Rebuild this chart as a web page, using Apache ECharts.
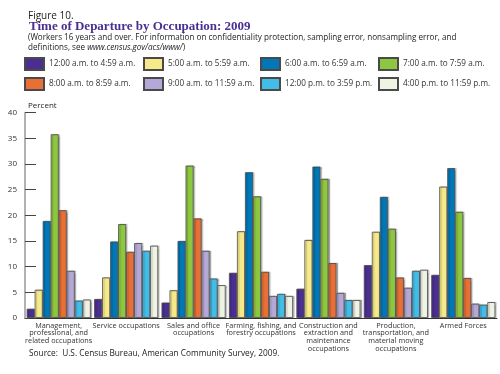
<!DOCTYPE html>
<html><head><meta charset="utf-8">
<script src="https://cdn.jsdelivr.net/npm/echarts@6/dist/echarts.min.js"></script>
<style>html,body{margin:0;padding:0;background:#fff}#c{width:500px;height:374px}</style>
</head><body><div id="c"></div>
<script>
const categories = [
  "Management,\nprofessional, and\nrelated occupations",
  "Service occupations",
  "Sales and office\noccupations",
  "Farming, fishing, and\nforestry occupations",
  "Construction and\nextraction and\nmaintenance\noccupations",
  "Production,\ntransportation, and\nmaterial moving\noccupations",
  "Armed Forces"
];
const seriesNames = [
  "12:00 a.m. to 4:59 a.m.",
  "5:00 a.m. to 5:59 a.m.",
  "6:00 a.m. to 6:59 a.m.",
  "7:00 a.m. to 7:59 a.m.",
  "8:00 a.m. to 8:59 a.m.",
  "9:00 a.m. to 11:59 a.m.",
  "12:00 p.m. to 3:59 p.m.",
  "4:00 p.m. to 11:59 p.m."
];
const s1200am = [1.8, 3.7, 3.0, 8.8, 5.7, 10.3, 8.4];
const s500am  = [5.5, 7.9, 5.4, 16.9, 15.2, 16.8, 25.6];
const s600am  = [18.9, 14.9, 15.0, 28.4, 29.5, 23.6, 29.2];
const s700am  = [35.8, 18.3, 29.7, 23.7, 27.1, 17.4, 20.7];
const s800am  = [21.0, 12.9, 19.4, 9.0, 10.7, 7.9, 7.8];
const s900am  = [9.2, 14.6, 13.1, 4.3, 4.9, 5.9, 2.8];
const s1200pm = [3.4, 13.1, 7.7, 4.7, 3.5, 9.2, 2.6];
const s400pm  = [3.6, 14.1, 6.4, 4.3, 3.5, 9.4, 3.1];
const yTicks = [0, 5, 10, 15, 20, 25, 30, 35, 40];

const values = [s1200am, s500am, s600am, s700am, s800am, s900am, s1200pm, s400pm];
const colors = ["#4a2f90", "#f6e98a", "#0077b6", "#8dc63f", "#e86f35", "#b4a9d6", "#42bde8", "#eff3e4"];
const font = "'Open Sans', 'Liberation Sans', sans-serif";

const legendPos = [[24,57],[143,57],[260,57],[378,57],[24,77],[143,77],[260,77],[378,77]];
const legends = seriesNames.map((n,i)=>({
  data:[n], left:legendPos[i][0], top:legendPos[i][1], itemWidth:19, itemHeight:12, itemGap:0,
  padding:0, selectedMode:false, icon:'rect',
  textStyle:{fontFamily:font, fontSize:8.2, color:'#333', padding:[2,0,0,0]}
}));

const series = seriesNames.map((n,i)=>({
  name:n, type:'bar', data: values[i], barGap:'0%', barCategoryGap:'5%',
  itemStyle:{color:colors[i], borderColor:'#4a4a4a', borderWidth:0.8,
    shadowColor:'rgba(0,0,0,0.25)', shadowOffsetX:1.5, shadowOffsetY:0, shadowBlur:1}
}));

const chart = echarts.init(document.getElementById('c'), null, {renderer:'canvas'});
chart.setOption({
  animation:false,
  title:[
    {text:'Figure 10.', left:23, top:6, textStyle:{fontFamily:font, fontSize:10, fontWeight:'normal', color:'#222'}},
    {text:'Time of Departure by Occupation: 2009', left:24, top:15, textStyle:{fontFamily:"'Liberation Serif', serif", fontSize:13, fontWeight:'bold', color:'#4a2f90'}},
    {text:'(Workers 16 years and over. For information on confidentiality protection, sampling error, nonsampling error, and', left:23, top:29, textStyle:{fontFamily:font, fontSize:8.1, fontWeight:'normal', color:'#222'}},
    {text:'definitions, see {i|www.census.gov/acs/www/}{n|)}', left:23, top:39, textStyle:{fontFamily:font, fontSize:8.1, fontWeight:'normal', color:'#222', rich:{i:{fontFamily:font, fontSize:8.1, fontStyle:'italic', color:'#222'}, n:{fontFamily:font, fontSize:8.1, color:'#222'}}}},
    {text:'Percent', left:23, top:97, textStyle:{fontFamily:font, fontSize:8, fontWeight:'normal', color:'#222'}},
    {text:'Source:  U.S. Census Bureau, American Community Survey, 2009.', left:24, top:345, textStyle:{fontFamily:font, fontSize:8.3, fontWeight:'normal', color:'#222'}}
  ],
  legend: legends,
  grid:{left:25, right:3, top:112.7, bottom:56, containLabel:false},
  xAxis:{type:'category', data:categories,
    axisLine:{lineStyle:{color:'#333', width:1}}, axisTick:{show:false},
    axisLabel:{interval:0, margin:4, fontFamily:font, fontSize:7.3, lineHeight:7.6, color:'#333', verticalAlign:'top'}
  },
  yAxis:{type:'value', min:yTicks[0], max:yTicks[yTicks.length-1], interval:5,
    splitLine:{show:false},
    axisLine:{show:true, lineStyle:{color:'#999', width:1.5}},
    axisTick:{show:true, inside:true, length:11, lineStyle:{color:'#444', width:1}},
    axisLabel:{margin:8, fontFamily:font, fontSize:8, color:'#333'}
  },
  series: series
});
</script></body></html>
